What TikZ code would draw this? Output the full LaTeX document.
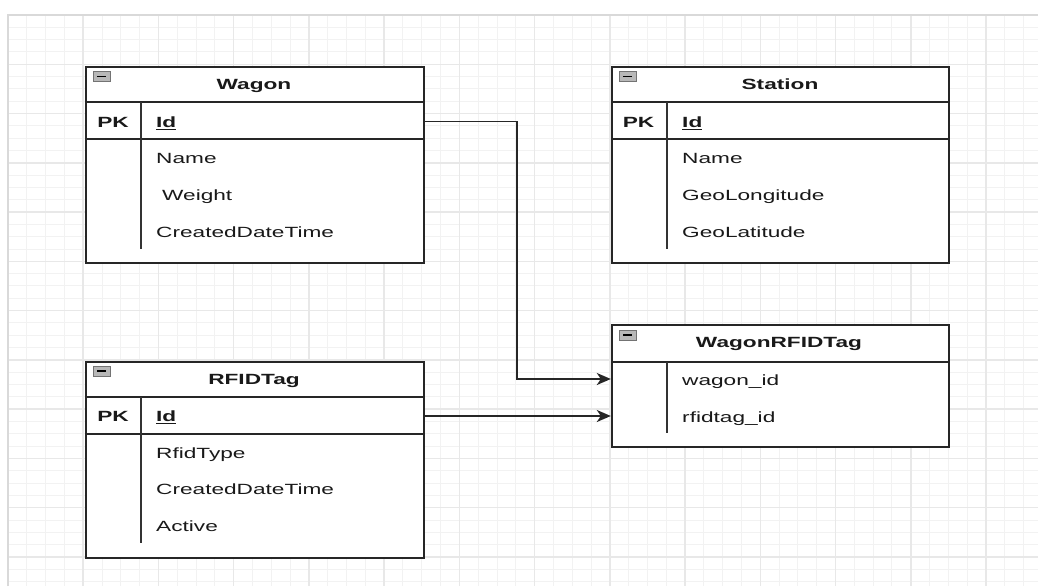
\documentclass[tikz,border=0pt]{standalone}
\usepackage{fontspec}
\setmainfont{Liberation Sans}[FakeStretch=1.53]
\usetikzlibrary{arrows.meta}
\newcommand{\fsz}{\fontsize{14.8}{17}\selectfont}
\tikzset{
  tbl/.style={draw=black!85, line width=2pt, fill=white, rectangle, inner sep=0pt, anchor=north west},
  sepline/.style={draw=black!85, line width=2pt},
  divline/.style={draw=black!80, line width=1.8pt},
  txt/.style={inner sep=0pt, anchor=base west, font=\fsz, text=black!90},
  ttl/.style={inner sep=0pt, anchor=base, font=\fsz\bfseries, text=black!90},
  pk/.style={inner sep=0pt, anchor=base, font=\fsz\bfseries, text=black!90},
  rowbox/.style={inner sep=0pt, minimum height=37pt, rectangle},
  link/.style={draw=black!85, line width=1.8pt, -{Stealth[length=14pt,width=12pt,inset=4pt]}},
  minorline/.style={draw=black!5, line width=1pt},
  majorline/.style={draw=black!9, line width=1.5pt},
  icon/.style={rectangle, inner sep=0pt, minimum width=17pt, minimum height=10pt,
    fill=black!28, draw=black!55, line width=0.8pt,
    path picture={\draw[black, line width=1.5pt]
      ([xshift=-4.5pt]path picture bounding box.center) -- ([xshift=4.5pt]path picture bounding box.center);}}
}
\begin{document}
\begin{tikzpicture}[x=1pt, y=-1pt]
\useasboundingbox (0,0) rectangle (1038,586);
\fill[white] (0,0) rectangle (1038,586);
% grid
\foreach \i in {0,...,54} {\draw[minorline] ({8+\i*18.808},15) -- ({8+\i*18.808},586);}
\foreach \j in {0,...,46} {\draw[minorline] (8,{15+\j*12.318}) -- (1038,{15+\j*12.318});}
\foreach \i in {0,...,13} {\draw[majorline] ({8+\i*75.23},15) -- ({8+\i*75.23},586);}
\foreach \j in {0,...,11} {\draw[majorline] (8,{15+\j*49.27}) -- (1038,{15+\j*49.27});}
\draw[draw=black!15, line width=1.8pt] (8,586) -- (8,15) -- (1038,15);

% ---------- Wagon ----------
\node[tbl, minimum width=338pt, minimum height=196pt] (wagon) at (85,66) {};
\draw[sepline] (85,102) -- (423,102);
\draw[sepline] (85,139) -- (423,139);
\draw[divline] (141,102) -- (141,249);
\node[icon] (wagon-icon) at (101.5,76.5) {};
\node[ttl] (wagon-title) at (254,89.3) {Wagon};
\node[rowbox, minimum width=338pt] (wagon-id) at (254,121.5) {};
\node[pk] (wagon-pk) at (113,127.3) {PK};
\node[txt] (wagon-f0) at (156,127.3) {\bfseries\underline{Id}};
\node[txt] (wagon-f1) at (156,163) {Name};
\node[txt] (wagon-f2) at (162,200) {Weight};
\node[txt] (wagon-f3) at (156,237) {CreatedDateTime};

% ---------- Station ----------
\node[tbl, minimum width=337pt, minimum height=196pt] (station) at (611,66) {};
\draw[sepline] (611,102) -- (948,102);
\draw[sepline] (611,139) -- (948,139);
\draw[divline] (667,102) -- (667,249);
\node[icon] (station-icon) at (627.5,76.5) {};
\node[ttl] (station-title) at (780,89.3) {Station};
\node[pk] (station-pk) at (638.5,127.3) {PK};
\node[txt] (station-f0) at (682,127.3) {\bfseries\underline{Id}};
\node[txt] (station-f1) at (682,163) {Name};
\node[txt] (station-f2) at (682,200) {GeoLongitude};
\node[txt] (station-f3) at (682,237) {GeoLatitude};

% ---------- RFIDTag ----------
\node[tbl, minimum width=338pt, minimum height=196pt] (rfid) at (85,361) {};
\draw[sepline] (85,397) -- (423,397);
\draw[sepline] (85,434) -- (423,434);
\draw[divline] (141,397) -- (141,543);
\node[icon] (rfid-icon) at (101.5,371) {};
\node[ttl] (rfid-title) at (254,384.5) {RFIDTag};
\node[rowbox, minimum width=338pt] (rfid-id) at (254,416) {};
\node[pk] (rfid-pk) at (113,421.5) {PK};
\node[txt] (rfid-f0) at (156,421.5) {\bfseries\underline{Id}};
\node[txt] (rfid-f1) at (156,458) {RfidType};
\node[txt] (rfid-f2) at (156,494.5) {CreatedDateTime};
\node[txt] (rfid-f3) at (156,531.5) {Active};

% ---------- WagonRFIDTag ----------
\node[tbl, minimum width=337pt, minimum height=122pt] (wr) at (611,324) {};
\draw[sepline] (611,362) -- (948,362);
\draw[divline] (667,362) -- (667,433);
\node[icon] (wr-icon) at (627.5,335) {};
\node[ttl] (wr-title) at (779,347.5) {WagonRFIDTag};
\node[rowbox, minimum width=337pt] (wr-wagon) at (779.5,379) {};
\node[rowbox, minimum width=337pt] (wr-rfid) at (779.5,416) {};
\node[txt] (wr-f1) at (682,385) {wagon\_id};
\node[txt] (wr-f2) at (682,422) {rfidtag\_id};

% ---------- connectors ----------
\coordinate (bend1) at (517,121.5);
\draw[link] (wagon-id.east) -- (bend1) |- (wr-wagon.west);
\draw[link] (rfid-id.east) -- (wr-rfid.west);
\end{tikzpicture}
\end{document}
